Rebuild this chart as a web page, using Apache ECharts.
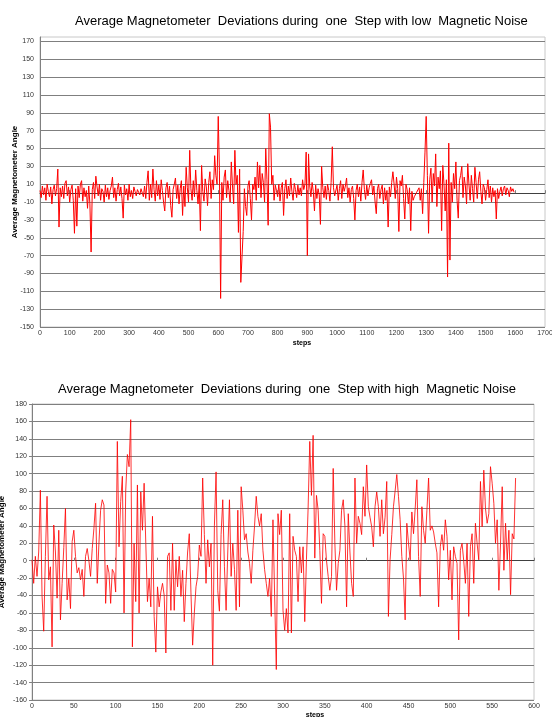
<!DOCTYPE html>
<html>
<head>
<meta charset="utf-8">
<title>Magnetometer Deviations</title>
<script src="https://cdn.jsdelivr.net/npm/echarts@6/dist/echarts.min.js"></script>
<style>
  html, body { margin: 0; padding: 0; background: #fff; }
  #chart { width: 552px; height: 717px; }
</style>
</head>
<body>
<div id="chart"></div>
<script>
// top chart: low noise, one value every 4 steps (0..1596)
var lowStep = 4;
var lowValues = [
  3, -5, 8, -2, 6, -8, 10, 2, -4, 7, -12, 4, 9, -3, 5, 27, -38, 6, -4, 8,
  -6, 11, 14, -3, 7, -10, 4, 9, -8, -45, 5, -37, 8, -5, 10, 14, -9, 6, -4, 3,
  -17, 8, -12, -66, 4, 12, -6, 19, 7, -3, 10, -8, 5, 2, -10, 9, -4, 6, -7, 3,
  8, 18, -5, 6, -9, 4, 11, -3, 7, -6, -28, 9, -2, 5, -8, 10, -4, 3, -6, 7,
  2, -3, 4, 1, -2, 5, 3, -4, 8, -6, 12, 25, -8, 10, -5, 27, 4, -9, 14, -3,
  9, -7, 15, 3, -10, -20, 6, 12, -5, 8, -14, -27, 4, 10, 17, -6, 9, -12, 5, 14,
  -25, 8, -15, 29, 6, -10, 48, 5, -8, 14, -4, 26, 3, -12, 10, -42, 31, 2, -9, 16,
  7, -14, 12, 24, -6, 15, 4, 42, 20, 10, 86, 25, -118, 12, -8, 18, 26, -5, 14, 3,
  -10, 35, 8, -12, 48, 10, 20, -44, 27, -100, -98, -43, 5, -15, -25, 8, 14, -6, -30, 10,
  4, 18, -8, 35, 6, 31, -5, 22, 12, -10, 50, 15, -36, 89, 74, 10, 20, -8, 9, 3,
  -4, 10, -9, 6, 12, -25, 5, 15, -6, 8, -3, 17, 2, -8, 11, 4, -5, 9, -2, 6,
  -3, 15, 4, 10, 46, -70, 44, 8, -4, 12, 2, -20, 9, -6, 5, -2, -35, 30, 6, -5,
  8, -7, 10, 3, -9, 12, 52, 6, -3, -4, 9, -8, 5, 14, -6, 10, 2, 8, 17, -5,
  6, -10, 4, 8, -6, -30, 3, 10, -4, 7, -9, 12, 26, 4, -7, 9, -3, 6, 11, 15,
  -2, 8, -10, -23, 5, 10, -6, 4, 9, -12, 6, -8, 3, -38, 7, -4, 12, 24, 10, -6,
  18, 5, -43, 14, 8, 20, -6, -29, 10, 4, -12, 6, -42, 2, -8, -4, -2, 1, 3, 6,
  -8, 5, -23, 12, 46, 86, 20, -45, 15, 28, -10, 22, 8, 44, -15, 18, 5, 25, -42, 31,
  10, -20, 15, -94, 56, -75, 12, -10, 22, 5, 35, -8, -28, 14, 20, 30, -5, 18, 8, -12,
  33, 10, -8, 20, 5, -10, 29, 12, -6, 15, 24, 2, -12, 10, 6, -8, 4, 15, -5, 8,
  -10, 6, -4, 3, -29, 5, -6, 2, 7, -3, 5, 8, -2, 6, 3, -4, 7, 2, 5, 1
];

// bottom chart: high noise, one value every 2 steps (0..578)
var highStep = 2;
var highValues = [
  1, -26, 5, -18, 10, 81, -40, -81, 5, 74, -22, -7, -99, 41, 10, -43, 35, -68, -26, 15,
  60, -45, -20, -55, 22, 35, 5, -14, -8, -22, -10, -41, 5, 14, 0, -18, 14, 37, 66, -26,
  20, 58, 70, 64, -49, -5, -14, -49, -10, -14, -36, 137, 16, 68, 97, -60, 80, 122, 108, 162,
  -99, 20, -47, 87, -60, 79, 35, 89, 20, -47, -20, -53, 51, -64, -105, -30, -53, -36, -26, -40,
  -106, 5, 9, -57, 20, -57, 1, -30, 5, -41, -11, -70, -26, 10, 31, -37, -97, -60, -30, -18,
  18, 5, 95, 30, -26, 24, -7, 20, -120, 40, 102, -34, -58, 30, 70, -7, -57, 10, 70, -18,
  20, -10, -57, 58, -53, 85, 58, 24, 31, 10, -3, -26, 12, 40, 74, 51, 40, 54, 12, -10,
  -26, -41, -20, -64, 47, -40, -125, 54, 30, 58, -57, -80, -55, -83, 54, -83, 28, 12, 5, -47,
  16, -14, 16, -70, 1, 60, 137, 75, 144, 3, 75, 58, 12, -49, 31, 28, 0, -18, -34, -18,
  106, 20, -34, -3, 12, 58, 70, 40, -53, 54, 10, -26, -41, 95, 20, 51, 43, 30, 85, 51,
  110, 62, 50, 39, 16, 62, 79, 62, 28, 70, 31, 50, 91, -64, 1, 30, 62, 80, 99, 74,
  47, 5, -20, -68, 43, 20, 1, 56, 31, 60, 93, 5, -41, 62, 35, 20, 58, 95, 35, 40,
  33, 20, 9, -53, 16, 30, 12, 47, 28, -22, 12, -45, 16, 5, -3, -91, 12, 20, 0, -26,
  20, -64, 16, 31, -26, 43, 20, 1, 91, 39, 104, 60, 43, 54, 108, 89, 66, 20, 47, -34,
  20, 85, -11, 43, 1, 35, -39, 31, 25, 95
];

var lowTitle = 'Average Magnetometer  Deviations during  one  Step with low  Magnetic Noise';
var highTitle = 'Average Magnetometer  Deviations during  one  Step with high  Magnetic Noise';
var yName = 'Average Magnetometer Angle';

function pairs(values, step) {
  var out = [];
  for (var i = 0; i < values.length; i++) {
    out.push([i * step, values[i]]);
  }
  return out;
}

var font = '"Liberation Sans", Arial, sans-serif';
var gridColor = '#7f7f7f';
var labelStyle = { fontSize: 7, color: '#333', fontFamily: font };
// plain numbers on x, no thousands separator
var plain = function (v) { return String(v); };

var chartView = echarts.init(document.getElementById('chart'), null, { renderer: 'canvas' });
chartView.setOption({
  backgroundColor: '#fff',
  animation: false,
  title: [
    { text: lowTitle, left: 70, top: 10, textStyle: { fontSize: 13, fontWeight: 'normal', color: '#000', fontFamily: font } },
    { text: highTitle, left: 53, top: 378, textStyle: { fontSize: 13, fontWeight: 'normal', color: '#000', fontFamily: font } },
    { text: 'steps', left: 297, top: 335, textAlign: 'center', textStyle: { fontSize: 7, fontWeight: 'bold', color: '#000', fontFamily: font } },
    { text: 'steps', left: 310, top: 707, textAlign: 'center', textStyle: { fontSize: 7, fontWeight: 'bold', color: '#000', fontFamily: font } }
  ],
  grid: [
    { left: 40, right: 7, top: 37, bottom: 390, show: true, borderColor: '#c8c8c8', borderWidth: 1, outerBoundsMode: 'none', containLabel: false },
    { left: 32, right: 18, top: 404, bottom: 17, show: true, borderColor: '#c8c8c8', borderWidth: 1, outerBoundsMode: 'none', containLabel: false }
  ],
  xAxis: [
    {
      type: 'value', gridIndex: 0, min: 0, max: 1700, interval: 100,
      axisLine: { onZero: true, lineStyle: { color: '#404040', width: 1 } },
      axisTick: { show: true, length: 3, inside: true, lineStyle: { color: '#808080' } },
      axisLabel: Object.assign({ margin: 3, formatter: plain }, labelStyle),
      splitLine: { show: false }
    },
    {
      type: 'value', gridIndex: 1, min: 0, max: 600, interval: 50,
      axisLine: { onZero: true, lineStyle: { color: '#404040', width: 1 } },
      axisTick: { show: true, length: 3, inside: true, lineStyle: { color: '#808080' } },
      axisLabel: Object.assign({ margin: 3, formatter: plain }, labelStyle),
      splitLine: { show: false }
    }
  ],
  yAxis: [
    {
      // ticks every 10 from -150, only the odd tens (-150, -130 ... 170) get a line and label
      type: 'value', gridIndex: 0, min: -150, max: 175, interval: 10,
      name: yName, nameLocation: 'middle', nameGap: 21, nameMoveOverlap: false,
      nameTextStyle: { fontSize: 8, fontWeight: 'bold', color: '#000', fontFamily: font },
      axisLine: { show: true, lineStyle: { color: '#808080' } },
      axisTick: { show: false },
      axisLabel: Object.assign({
        margin: 6,
        formatter: function (v) {
          if (v % 20 === 0 || v > 170) return '';
          return v;
        }
      }, labelStyle),
      splitLine: { show: true, lineStyle: { color: [gridColor, 'rgba(0,0,0,0)'], width: 1 } }
    },
    {
      type: 'value', gridIndex: 1, min: -160, max: 180, interval: 20,
      name: yName, nameLocation: 'middle', nameGap: 26, nameMoveOverlap: false,
      nameTextStyle: { fontSize: 8, fontWeight: 'bold', color: '#000', fontFamily: font },
      axisLine: { show: true, lineStyle: { color: '#808080' } },
      axisTick: { show: true, length: 3, lineStyle: { color: '#808080' } },
      axisLabel: Object.assign({ margin: 5 }, labelStyle),
      splitLine: { show: true, lineStyle: { color: gridColor, width: 1 } }
    }
  ],
  series: [
    {
      type: 'line', xAxisIndex: 0, yAxisIndex: 0,
      data: pairs(lowValues, lowStep),
      showSymbol: false, silent: true,
      lineStyle: { color: '#ff0000', width: 1 }
    },
    {
      type: 'line', xAxisIndex: 1, yAxisIndex: 1,
      data: pairs(highValues, highStep),
      showSymbol: false, silent: true,
      lineStyle: { color: 'rgba(255,0,0,0.8)', width: 1 }
    }
  ]
});
window.addEventListener('resize', function () {
  chartView.resize();
});
</script>
</body>
</html>
